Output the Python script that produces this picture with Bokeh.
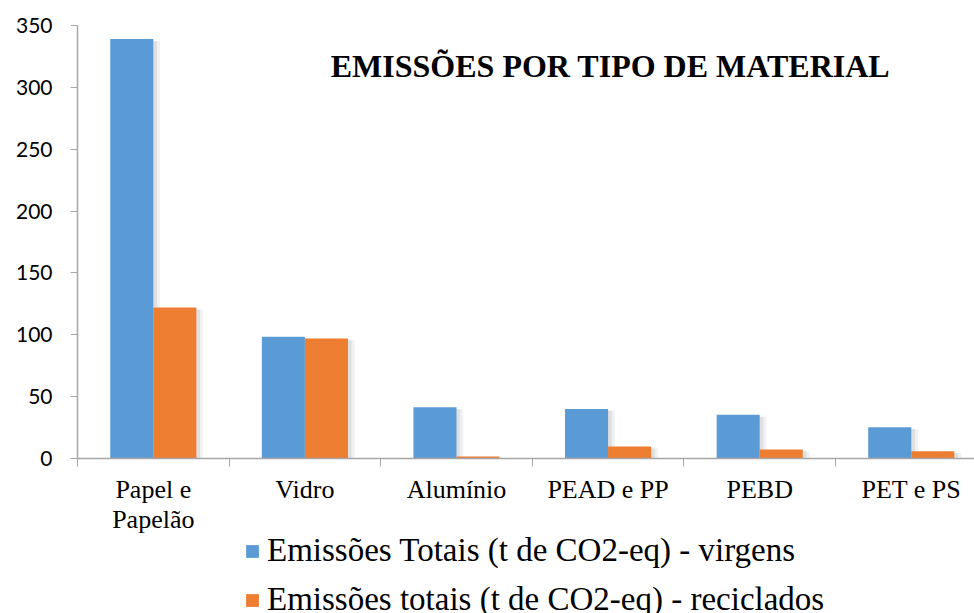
from bokeh.plotting import figure
from bokeh.layouts import column
from bokeh.models import Range1d, FixedTicker, Legend, LegendItem, Label, ColumnDataSource
from bokeh.embed import file_html
from bokeh.resources import INLINE

categories = ["Papel e\nPapelão", "Vidro", "Alumínio", "PEAD e PP", "PEBD", "PET e PS"]
virgens = [339, 98.5, 41.5, 40, 35.3, 25.3]
reciclados = [122, 97, 1.6, 9.7, 7.3, 5.9]
y_ticks = [0, 50, 100, 150, 200, 250, 300, 350]
series_names = ["Emissões Totais (t de CO2-eq) - virgens", "Emissões totais (t de CO2-eq) - reciclados"]
title_text = "EMISSÕES POR TIPO DE MATERIAL"

BLUE = "#5B9BD5"
ORANGE = "#ED7D31"
bw = 0.284

centers = [i + 0.5 for i in range(len(categories))]
src = ColumnDataSource(dict(
    xb=[c - bw / 2 for c in centers],
    xo=[c + bw / 2 for c in centers],
    v=virgens, r=reciclados,
))

p = figure(width=974, height=536, output_backend="svg", toolbar_location=None,
           x_range=Range1d(0, 5.917), y_range=Range1d(0, 350),
           min_border_left=77, min_border_top=25, min_border_bottom=78, min_border_right=0)
p.outline_line_color = None
p.xgrid.visible = False
p.ygrid.visible = False
p.background_fill_color = "white"

# soft shadows on the right of each bar
for off, alpha in [(0.045, 0.05), (0.025, 0.07)]:
    p.vbar(x=[x + off for x in src.data["xb"]], top=[v - 1.5 for v in virgens], bottom=0, width=bw,
           fill_color="#000000", fill_alpha=alpha, line_color=None)
    p.vbar(x=[x + off for x in src.data["xo"]], top=[max(v - 1.5, 0) for v in reciclados], bottom=0, width=bw,
           fill_color="#000000", fill_alpha=alpha, line_color=None)

rb = p.vbar(x="xb", top="v", bottom=0, width=bw, source=src, fill_color=BLUE, line_color=None)
ro = p.vbar(x="xo", top="r", bottom=0, width=bw, source=src, fill_color=ORANGE, line_color=None)

# axes
xa = p.xaxis[0]
xa.ticker = FixedTicker(ticks=centers, minor_ticks=list(range(len(categories) + 1)))
xa.major_label_overrides = {c: lab for c, lab in zip(centers, categories)}
xa.major_tick_out = 0
xa.major_tick_in = 0
xa.minor_tick_out = 8
xa.minor_tick_in = 0
xa.minor_tick_line_color = "#a6a6a6"
xa.axis_line_color = "#a6a6a6"
xa.axis_line_width = 1.5
xa.major_label_text_font = "Liberation Serif"
xa.major_label_text_font_size = "26px"
xa.major_label_text_color = "black"
xa.major_label_text_line_height = 1.05
xa.major_label_standoff = 8

ya = p.yaxis[0]
ya.ticker = FixedTicker(ticks=y_ticks)
ya.minor_tick_line_color = None
ya.major_tick_out = 7
ya.major_tick_in = 0
ya.major_tick_line_color = "#a6a6a6"
ya.axis_line_color = "#a6a6a6"
ya.axis_line_width = 1.5
ya.major_label_text_font = "Lato"
ya.major_label_text_font_size = "21px"
ya.major_label_text_color = "black"
ya.major_label_standoff = 18

p.add_layout(Label(x=3.516, y=317, text=title_text, text_align="center", text_baseline="middle",
                   text_font="Liberation Serif", text_font_style="bold", text_font_size="32px",
                   text_color="black"))

# legend figure below the chart
p2 = figure(width=974, height=77, output_backend="svg", toolbar_location=None,
            x_range=Range1d(0, 1), y_range=Range1d(0, 1),
            x_axis_location=None, y_axis_location=None,
            min_border_left=0, min_border_right=0, min_border_top=0, min_border_bottom=0)
p2.grid.visible = False
p2.outline_line_color = None
lb = p2.vbar(x=[-5], top=[0], width=0.1, fill_color=BLUE, line_color=None)
lo = p2.vbar(x=[-5], top=[0], width=0.1, fill_color=ORANGE, line_color=None)

legend = Legend(items=[LegendItem(label=series_names[0], renderers=[lb]),
                       LegendItem(label=series_names[1], renderers=[lo])],
                location=(167, -5), orientation="vertical",
                label_text_font="Liberation Serif", label_text_font_size="33px",
                label_text_color="black",
                glyph_width=16, glyph_height=16, label_standoff=7, spacing=12,
                padding=0, margin=0, border_line_color=None, background_fill_alpha=0)
p2.add_layout(legend, "center")

layout = column(p, p2, spacing=0)
open("out.html", "w").write(file_html(layout, INLINE))
